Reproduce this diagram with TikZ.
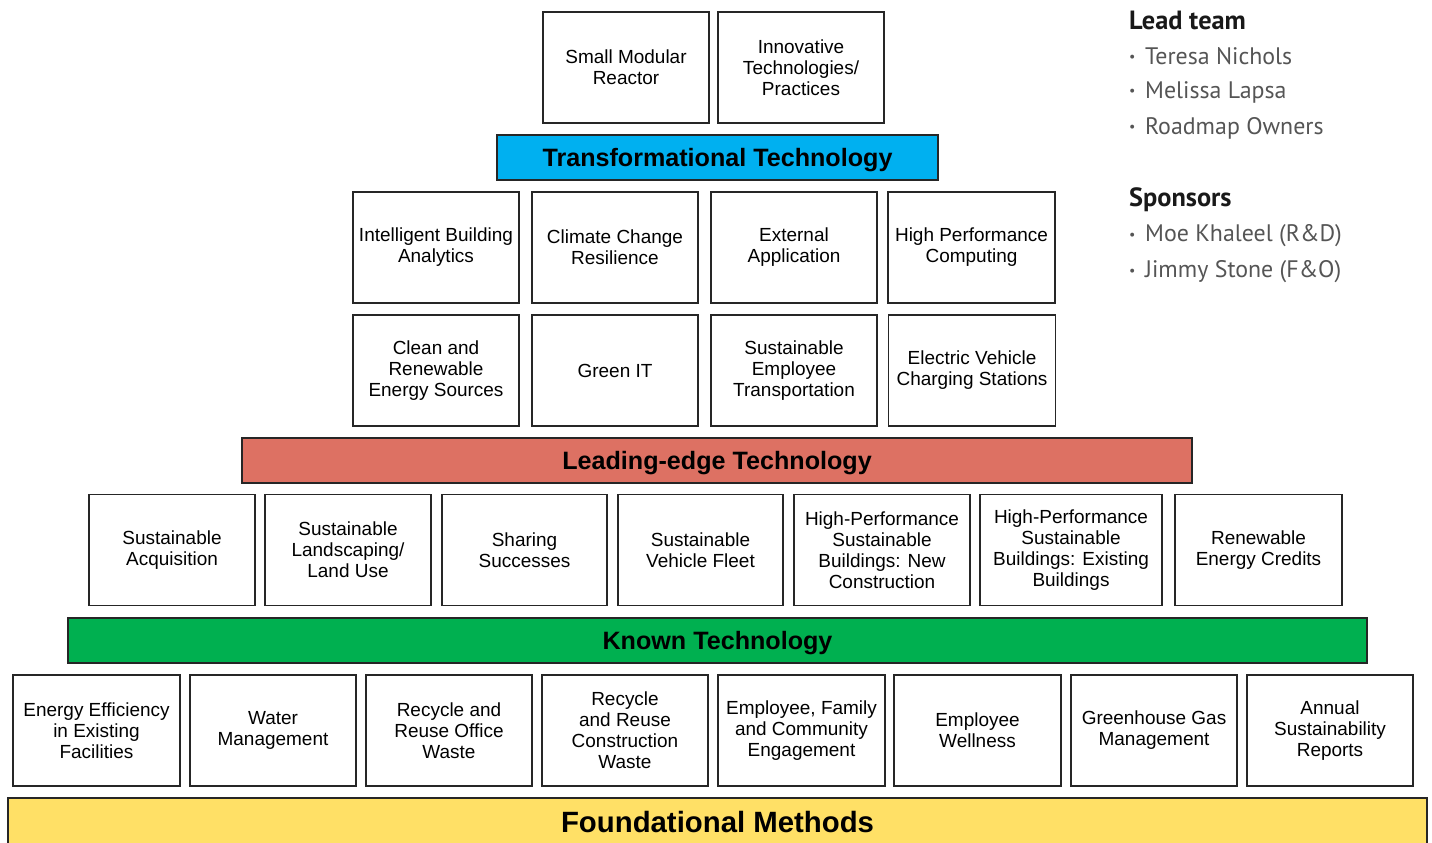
\documentclass[tikz,border=0pt]{standalone}
\usepackage{fontspec}
\setmainfont{Liberation Sans}
\newfontfamily\sidefont{PT Sans}
\definecolor{transblue}{RGB}{0,176,240}
\definecolor{leadred}{RGB}{221,113,99}
\definecolor{knowngreen}{RGB}{0,176,80}
\definecolor{foundyellow}{RGB}{255,224,102}
\definecolor{namegray}{RGB}{85,85,85}
\newcommand{\dotitem}{\raisebox{0.2ex}{\fontsize{8}{8}\selectfont\textbullet}\hspace{0.4em}}
\begin{document}
\begin{tikzpicture}[x=0.02cm,y=-0.02cm,
    cell/.style={draw=black!85,line width=1pt,fill=white,minimum width=3.32cm,minimum height=2.22cm,
        align=center,font=\fontsize{10.8}{11.9}\selectfont,inner sep=1pt},
    band/.style={draw=black!85,line width=1pt,minimum height=0.9cm,text depth=0pt,font=\fontsize{14.3}{16}\selectfont\bfseries},
    head/.style={anchor=west,font=\sidefont\fontsize{15}{17}\selectfont\bfseries,text=black!90},
    item/.style={anchor=west,font=\sidefont\fontsize{13.6}{15}\selectfont,text=namegray}]
    \useasboundingbox (0,0) rectangle (1432,842);

    % transformational technology
    \node[cell] (smr) at (626,67.5) {Small Modular\\Reactor};
    \node[cell] (inno) at (801,67.5) {Innovative\\Technologies/\\Practices};
    \node[band,fill=transblue,minimum width=8.82cm] (trans) at (717.5,157.5) {Transformational Technology};

    % leading-edge technology
    \node[cell] (iba) at (436,247.5) {Intelligent Building\\Analytics};
    \node[cell] (ccr) at (615,247.5) {Climate Change\\Resilience};
    \node[cell] (ext) at (794,247.5) {External\\Application};
    \node[cell,minimum width=3.34cm] (hpc) at (971.5,247.5) {High Performance\\Computing};
    \node[cell] (clean) at (436,370.5) {Clean and\\Renewable\\Energy Sources};
    \node[cell] (git) at (615,370.5) {Green IT};
    \node[cell] (set) at (794,370.5) {Sustainable\\Employee\\Transportation};
    \node[cell,minimum width=3.34cm] (ev) at (972,370.5) {Electric Vehicle\\Charging Stations};
    \node[band,fill=leadred,minimum width=19cm] (lead) at (717,460.5) {Leading-edge Technology};

    % known technology
    \node[cell] (acq) at (172,550) {Sustainable\\Acquisition};
    \node[cell] (land) at (348,550) {Sustainable\\Landscaping/\\Land Use};
    \node[cell,minimum width=3.3cm] (share) at (524.5,550) {Sharing\\Successes};
    \node[cell,minimum width=3.3cm] (fleet) at (700.5,550) {Sustainable\\Vehicle Fleet};
    \node[cell,minimum width=3.52cm] (hpnew) at (882,550) {High-Performance\\Sustainable\\Buildings: New\\Construction};
    \node[cell,minimum width=3.64cm] (hpold) at (1071,550) {High-Performance\\Sustainable\\Buildings: Existing\\Buildings};
    \node[cell,minimum width=3.34cm] (rec) at (1258.5,550) {Renewable\\Energy Credits};
    \node[band,fill=knowngreen,minimum width=25.98cm] (known) at (717.5,640.5) {Known Technology};

    % foundational methods
    \node[cell,minimum width=3.34cm] (eff) at (96.5,730.5) {Energy Efficiency\\in Existing\\Facilities};
    \node[cell] (water) at (273,730.5) {Water\\Management};
    \node[cell] (office) at (449,730.5) {Recycle and\\Reuse Office\\Waste};
    \node[cell] (constr) at (625,730.5) {Recycle\\and Reuse\\Construction\\Waste};
    \node[cell,minimum width=3.34cm] (family) at (801.5,730.5) {Employee, Family\\and Community\\Engagement};
    \node[cell,minimum width=3.34cm] (well) at (977.5,730.5) {Employee\\Wellness};
    \node[cell] (ghg) at (1154,730.5) {Greenhouse Gas\\Management};
    \node[cell] (annual) at (1330,730.5) {Annual\\Sustainability\\Reports};
    \draw[draw=black!85,line width=1pt,fill=foundyellow] (8,798) rectangle (1427,860);
    \node[text depth=0pt,font=\fontsize{16.7}{19}\selectfont\bfseries] (found) at (717.5,822) {Foundational Methods};

    % lead team and sponsors
    \node[head] (leadteam) at (1123,20) {Lead team};
    \node[item] (p1) at (1123,56) {\dotitem Teresa Nichols};
    \node[item] (p2) at (1123,92) {\dotitem Melissa Lapsa};
    \node[item] (p3) at (1123,128) {\dotitem Roadmap Owners};
    \node[head] (sponsors) at (1123,200) {Sponsors};
    \node[item] (s1) at (1123,236) {\dotitem Moe Khaleel (R\&D)};
    \node[item] (s2) at (1123,272) {\dotitem Jimmy Stone (F\&O)};
\end{tikzpicture}
\end{document}
